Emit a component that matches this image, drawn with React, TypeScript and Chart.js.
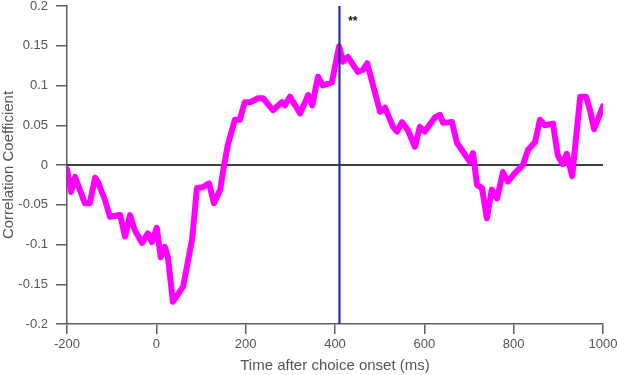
import React, { useEffect, useRef } from "react";
import { Chart, registerables } from "chart.js";

Chart.register(...registerables);

const timeMs = [-200,-191,-182,-160,-149,-137,-131,-115,-104,-81,-70,-59,-48,-32,-19,-10,1,10,19,26,37,60,80,91,104,118,129,143,151,160,176,187,198,210,228,239,261,281,288,299,322,340,349,362,373,393,409,418,429,451,463,472,501,512,530,539,550,563,579,590,601,624,635,642,662,673,696,702,709,718,729,740,751,763,776,787,803,821,832,848,859,870,888,899,910,919,931,949,962,971,980,1000];
const corr = [-0.005,-0.034,-0.015,-0.048,-0.048,-0.016,-0.021,-0.044,-0.065,-0.063,-0.09,-0.063,-0.082,-0.098,-0.086,-0.097,-0.079,-0.116,-0.103,-0.116,-0.172,-0.153,-0.094,-0.029,-0.028,-0.023,-0.048,-0.031,-0.003,0.025,0.057,0.057,0.079,0.079,0.084,0.084,0.069,0.079,0.075,0.086,0.065,0.088,0.075,0.111,0.1,0.104,0.149,0.13,0.136,0.117,0.12,0.128,0.067,0.072,0.048,0.042,0.054,0.044,0.023,0.048,0.042,0.06,0.063,0.053,0.054,0.028,0.009,0.004,0.015,-0.025,-0.029,-0.067,-0.031,-0.042,-0.009,-0.021,-0.01,0,0.019,0.029,0.057,0.05,0.052,0.012,0.001,0.014,-0.014,0.086,0.086,0.069,0.045,0.074];

const markerTime = 410;
const starPos = { x: 440, y: 0.18, text: "**" };
const xRange = [-200, 1000];
const yRange = [-0.2, 0.2];

export default function App() {
  const ref = useRef<HTMLCanvasElement | null>(null);
  useEffect(() => {
    if (!ref.current) return;
    const axisColor = "#5f5f5f";
    const textColor = "#555555";
    const font = "'Liberation Sans', Arial, sans-serif";
    const starPlugin = {
      id: "stars",
      afterDatasetsDraw(chart: any) {
        const { ctx, scales } = chart;
        ctx.save();
        ctx.fillStyle = "#111";
        ctx.font = `bold 12px ${font}`;
        ctx.textAlign = "center";
        ctx.textBaseline = "middle";
        ctx.fillText(starPos.text, scales.x.getPixelForValue(starPos.x), scales.y.getPixelForValue(starPos.y));
        ctx.restore();
      },
    };
    const chart = new Chart(ref.current, {
      type: "scatter",
      data: {
        datasets: [
          {
            data: [{ x: xRange[0], y: 0 }, { x: xRange[1], y: 0 }],
            showLine: true,
            borderColor: "#404040",
            borderWidth: 2,
            pointRadius: 0,
            order: 3,
          },
          {
            data: timeMs.map((t, i) => ({ x: t, y: corr[i] })),
            showLine: true,
            borderColor: "#ff00ff",
            borderWidth: 6,
            borderJoinStyle: "round",
            borderCapStyle: "round",
            pointRadius: 0,
            order: 2,
          },
          {
            data: [{ x: markerTime, y: yRange[0] }, { x: markerTime, y: yRange[1] }],
            showLine: true,
            borderColor: "#2b2f96",
            borderWidth: 2.2,
            pointRadius: 0,
            order: 1,
          },
        ],
      },
      options: {
        responsive: false,
        animation: false,
        layout: { padding: { top: 6, right: 14, left: 0, bottom: 0 } },
        plugins: { legend: { display: false }, tooltip: { enabled: false } },
        scales: {
          x: {
            type: "linear",
            min: xRange[0],
            max: xRange[1],
            afterFit(scale: any) {
              scale.height = 51;
              scale.paddingLeft = 0;
              scale.paddingRight = 0;
            },
            ticks: {
              stepSize: 200,
              color: textColor,
              font: { family: font, size: 13 },
              padding: 3,
              maxRotation: 0,
              callback: (v: any) => String(Number(v)),
            },
            grid: {
              display: true,
              drawOnChartArea: false,
              drawTicks: true,
              tickLength: 10,
              color: axisColor,
              lineWidth: 1.5,
            },
            border: { display: true, color: axisColor, width: 1.5 },
            title: {
              display: true,
              text: "Time after choice onset (ms)",
              color: textColor,
              font: { family: font, size: 15 },
              padding: 0,
            },
          },
          y: {
            type: "linear",
            min: yRange[0],
            max: yRange[1],
            afterFit(scale: any) {
              scale.width = 67;
              scale.paddingTop = 0;
              scale.paddingBottom = 0;
            },
            ticks: {
              stepSize: 0.05,
              color: textColor,
              font: { family: font, size: 13 },
              padding: 8,
              callback: (v: any) => String(Math.round(Number(v) * 100) / 100),
            },
            grid: {
              display: true,
              drawOnChartArea: false,
              drawTicks: true,
              tickLength: 11,
              color: axisColor,
              lineWidth: 1.5,
            },
            border: { display: true, color: axisColor, width: 1.5 },
            title: {
              display: true,
              text: "Correlation Coefficient",
              color: textColor,
              font: { family: font, size: 15 },
              padding: 0,
            },
          },
        },
      },
      plugins: [starPlugin],
    } as any);
    return () => chart.destroy();
  }, []);
  return (
    <div style={{ position: "absolute", left: 0, top: 0, width: 617, height: 375, background: "#fff" }}>
      <canvas ref={ref} width={617} height={375} />
    </div>
  );
}
